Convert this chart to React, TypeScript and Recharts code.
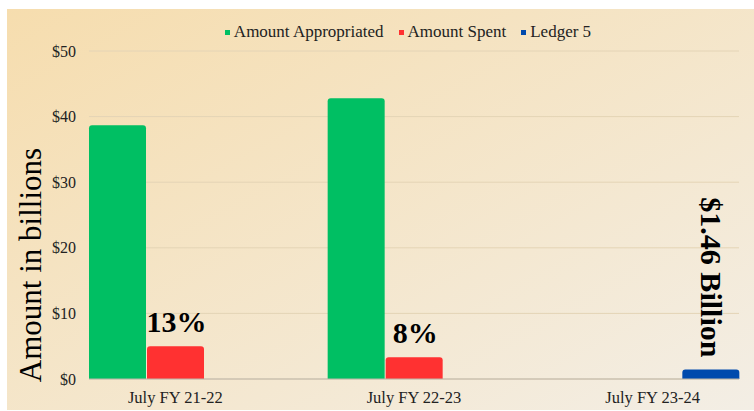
import { BarChart, Bar, XAxis, YAxis, CartesianGrid, LabelList } from "recharts";

const categories = ["July FY 21-22", "July FY 22-23", "July FY 23-24"];
const appropriated = [38.7, 42.8, null];
const spent = [5.0, 3.3, null];
const ledger = [null, null, 1.46];
const spentLabels = ["13%", "8%", ""];
const ledgerLabels = ["", "", "$1.46 Billion"];
const yTicks = [0, 10, 20, 30, 40, 50];

const data = categories.map((name, i) => ({
  name,
  appropriated: appropriated[i],
  spent: spent[i],
  ledger: ledger[i],
  spentLabel: spentLabels[i],
  ledgerLabel: ledgerLabels[i],
}));

const FONT = "'Liberation Serif', 'Times New Roman', serif";

const legendItems = [
  { label: "Amount Appropriated", color: "#00BF63" },
  { label: "Amount Spent", color: "#FF3131" },
  { label: "Ledger 5", color: "#004AAD" },
];

const pctLabel = (props: any) => {
  const { x, y, width, value } = props;
  if (!value) return null;
  return (
    <text x={x + width / 2 + 1} y={y - 14} textAnchor="middle" fontFamily={FONT} fontWeight="bold" fontSize={30} fill="#000">
      {value}
    </text>
  );
};

const ledgerLabel = (props: any) => {
  const { x, y, width, value } = props;
  if (!value) return null;
  const cx = x + width / 2 + 1;
  const cy = y - 12;
  return (
    <text x={cx} y={cy} textAnchor="end" dominantBaseline="central" transform={`rotate(90 ${cx} ${cy})`} fontFamily={FONT} fontWeight="bold" fontSize={30} fill="#000">
      {value}
    </text>
  );
};

export default function App() {
  return (
    <div
      style={{
        position: "absolute",
        left: 7,
        top: 9,
        width: 747,
        height: 401,
        background: "linear-gradient(to bottom right, #F6DDAE, #F3EEE5)",
        fontFamily: FONT,
      }}
    >
      <div
        style={{
          position: "absolute",
          top: 13,
          left: 76,
          width: 650,
          display: "flex",
          justifyContent: "center",
          fontSize: 17,
          color: "#222",
          gap: 15,
        }}
      >
        {legendItems.map((it) => (
          <span key={it.label} style={{ display: "flex", alignItems: "center" }}>
            <span style={{ width: 5, height: 5, background: it.color, marginRight: 4, display: "inline-block" }} />
            {it.label}
          </span>
        ))}
      </div>
      <BarChart width={747} height={401} data={data} margin={{ top: 42, right: 15, bottom: 0, left: 0 }} barGap={1} barSize={57}>
        <CartesianGrid vertical={false} stroke="#E4D4B6" />
        <XAxis
          dataKey="name"
          height={31}
          padding={{ left: -33, right: -33 }}
          tickLine={false}
          stroke="#BDB6AA"
          tick={{ fill: "#222", fontSize: 16.5, fontFamily: FONT }}
          tickMargin={6}
        />
        <YAxis
          width={82}
          domain={[0, 50]}
          ticks={yTicks}
          axisLine={false}
          tickLine={false}
          tickMargin={7}
          tickFormatter={(v) => `$${v}`}
          tick={{ fill: "#222", fontSize: 16, fontFamily: FONT }}
          label={{
            value: "Amount in billions",
            angle: -90,
            position: "insideLeft",
            dx: 18,
            dy: 50,
            style: { fontSize: 31, fontFamily: FONT, fill: "#000", textAnchor: "middle" },
          }}
        />
        <Bar dataKey="appropriated" fill="#00BF63" radius={[3, 3, 0, 0]} isAnimationActive={false} />
        <Bar dataKey="spent" fill="#FF3131" radius={[3, 3, 0, 0]} isAnimationActive={false}>
          <LabelList dataKey="spentLabel" content={pctLabel} />
        </Bar>
        <Bar dataKey="ledger" fill="#004AAD" radius={[3, 3, 0, 0]} isAnimationActive={false}>
          <LabelList dataKey="ledgerLabel" content={ledgerLabel} />
        </Bar>
      </BarChart>
    </div>
  );
}
